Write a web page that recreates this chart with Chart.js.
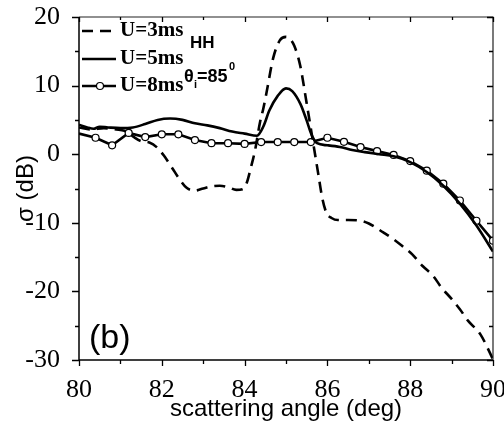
<!DOCTYPE html>
<html><head><meta charset="utf-8">
<script src="https://cdn.jsdelivr.net/npm/chart.js@4.4.0/dist/chart.umd.min.js"></script>
<style>html,body{margin:0;padding:0;background:#fff;}#wrap{width:504px;height:432px;position:relative;}</style>
</head><body><div id="wrap"><canvas id="c" width="504" height="432"></canvas></div>
<script>
const seriesLabels = ['U=3ms', 'U=5ms', 'U=8ms'];

const angle3 = [80.0,80.3,80.6,80.9,81.1,81.3,81.5,81.7,81.9,82.05,82.25,82.4,82.6,82.8,83.0,83.2,83.4,83.6,83.8,83.95,84.05,84.15,84.25,84.37,84.45,84.53,84.69,84.85,85.0,85.1,85.2,85.34,85.5,85.62,85.78,85.88,85.98,86.1,86.25,86.5,86.8,87.0,87.35,87.6,87.85,88.05,88.3,88.55,88.75,89.0,89.2,89.4,89.7,90.0];
const sigma3 = [3.9,3.6,3.8,3.6,3.4,2.6,1.9,1.7,0.9,-0.2,-2.0,-3.4,-4.9,-5.3,-5.0,-4.7,-4.6,-4.8,-5.2,-5.1,-4.2,-2.0,0.5,4.6,6.6,9.0,14.0,16.6,17.1,16.8,15.8,13.0,7.4,3.0,-2.9,-6.5,-8.6,-9.3,-9.6,-9.6,-9.7,-10.1,-11.4,-12.4,-13.6,-14.6,-16.3,-17.7,-19.4,-21.1,-22.6,-24.3,-26.3,-29.9];

const angle5 = [80.0,80.2,80.35,80.5,80.7,81.0,81.3,81.6,81.9,82.2,82.5,82.8,83.1,83.4,83.7,84.0,84.3,84.45,84.6,84.8,85.0,85.15,85.35,85.5,85.62,85.75,86.0,86.3,86.6,86.9,87.25,87.6,88.0,88.4,88.8,89.2,89.6,90.0];
const sigma5 = [4.3,3.9,3.7,4.0,3.9,3.8,3.9,4.4,5.0,5.2,5.0,4.5,4.2,3.8,3.3,3.0,2.7,4.0,6.4,8.5,9.6,9.2,7.3,4.9,2.8,1.6,1.3,1.05,0.6,0.3,0.0,-0.3,-1.15,-2.6,-4.6,-7.2,-10.4,-14.2];

const angle8 = [80.0,80.4,80.8,81.2,81.6,82.0,82.4,82.8,83.2,83.6,84.0,84.4,84.8,85.2,85.6,86.0,86.4,86.8,87.2,87.6,88.0,88.4,88.8,89.2,89.6,90.0];
const sigma8 = [3.0,2.4,1.3,3.1,2.5,2.9,2.9,2.06,1.6,1.6,1.5,1.77,1.77,1.77,1.77,2.4,1.8,1.04,0.45,-0.1,-1.0,-2.4,-4.3,-6.75,-9.7,-12.6];

const xTickValues = [80, 82, 84, 86, 88, 90];
const yTickValues = [-30, -20, -10, 0, 10, 20];
const xTitle = 'scattering angle (deg)';
const yTitle = 'σ (dB)';
const polLabel = 'HH';
const panelLabel = '(b)';

const toXY = (xs, ys) => xs.map((x, i) => ({x: x, y: ys[i]}));

const serif = "Liberation Serif";
const sans = "Liberation Sans";

const frameAndTicks = {
  id: 'frameAndTicks',
  afterDatasetsDraw(chart) {
    const ctx = chart.ctx, a = chart.chartArea;
    const xs = chart.scales.x, ys = chart.scales.y;
    ctx.save();
    ctx.strokeStyle = '#000';
    ctx.lineWidth = 1.5;
    ctx.beginPath();
    ctx.moveTo(a.left, a.top); ctx.lineTo(a.left, a.bottom); ctx.lineTo(a.right, a.bottom);
    ctx.stroke();
    ctx.lineWidth = 1.2;
    ctx.strokeStyle = '#222';
    ctx.beginPath();
    ctx.moveTo(a.left, a.top); ctx.lineTo(a.right, a.top); ctx.lineTo(a.right, a.bottom);
    ctx.stroke();
    ctx.lineWidth = 1.3;
    ctx.strokeStyle = '#000';
    ctx.beginPath();
    for (let v = xs.min; v <= xs.max + 1e-9; v += 1) {
      const px = Math.round(xs.getPixelForValue(v)) + 0.5;
      const major = Math.round(v) % 2 === 0;
      ctx.moveTo(px, a.bottom); ctx.lineTo(px, a.bottom + (major ? 6 : 4));
      ctx.moveTo(px, a.top); ctx.lineTo(px, a.top + (major ? 5 : 3));
    }
    for (let v = ys.min; v <= ys.max + 1e-9; v += 5) {
      const py = Math.round(ys.getPixelForValue(v)) + 0.5;
      const major = Math.round(v) % 10 === 0;
      ctx.moveTo(a.left, py); ctx.lineTo(a.left - (major ? 7 : 4), py);
      ctx.moveTo(a.right, py); ctx.lineTo(a.right - (major ? 6 : 4), py);
    }
    ctx.stroke();
    ctx.restore();
  },
  afterDraw(chart) {
    const ctx = chart.ctx;
    const ds = chart.data.datasets;
    ctx.save();
    const rows = [31, 59, 86];
    ds.forEach((d, i) => {
      const y = rows[i];
      ctx.strokeStyle = d.borderColor;
      ctx.lineWidth = d.borderWidth;
      ctx.setLineDash(d.borderDash || []);
      ctx.beginPath(); ctx.moveTo(82, y); ctx.lineTo(116, y); ctx.stroke();
      ctx.setLineDash([]);
      if (d.showMarker) {
        ctx.beginPath(); ctx.arc(100, y, 3.5, 0, Math.PI * 2);
        ctx.fillStyle = '#fff'; ctx.fill();
        ctx.lineWidth = 1.2; ctx.stroke();
      }
      ctx.fillStyle = '#000';
      ctx.font = 'bold 21px "' + serif + '"';
      ctx.textBaseline = 'middle';
      ctx.textAlign = 'left';
      ctx.fillText(d.label, 120, y);
    });
    ctx.fillStyle = '#000';
    ctx.textBaseline = 'alphabetic';
    ctx.font = 'bold 17px "' + sans + '"';
    ctx.fillText(polLabel, 190, 48);
    ctx.font = 'bold 18px "' + sans + '"';
    ctx.fillText('θ', 184, 82);
    ctx.font = 'bold 11px "' + sans + '"';
    ctx.fillText('i', 194, 88);
    ctx.font = 'bold 18px "' + sans + '"';
    ctx.fillText('=85', 197, 82);
    ctx.font = 'bold 11px "' + sans + '"';
    ctx.fillText('0', 229, 70);
    ctx.font = '34px "' + sans + '"';
    ctx.fillText(panelLabel, 89, 348);
    ctx.restore();
  }
};

new Chart(document.getElementById('c'), {
  type: 'line',
  data: {
    datasets: [
      {label: seriesLabels[0], data: toXY(angle3, sigma3), borderColor: '#000', borderWidth: 2.6, borderDash: [11, 7], pointRadius: 0, cubicInterpolationMode: 'monotone', fill: false},
      {label: seriesLabels[1], data: toXY(angle5, sigma5), borderColor: '#000', borderWidth: 2.6, pointRadius: 0, cubicInterpolationMode: 'monotone', fill: false},
      {label: seriesLabels[2], data: toXY(angle8, sigma8), borderColor: '#000', borderWidth: 2.6, tension: 0, fill: false, showMarker: true,
       pointRadius: (c) => c.dataIndex === 0 ? 0 : 3.5, pointBackgroundColor: '#fff', pointBorderColor: '#000', pointBorderWidth: 1.2}
    ]
  },
  options: {
    responsive: false,
    animation: false,
    events: [],
    layout: {padding: {top: 17, right: 11, left: 0, bottom: 0}},
    plugins: {legend: {display: false}, tooltip: {enabled: false}},
    scales: {
      x: {
        type: 'linear', min: 80, max: 90,
        afterBuildTicks: (s) => { s.ticks = xTickValues.map(v => ({value: v})); },
        afterFit: (s) => { s.height = 72; s.paddingLeft = 0; s.paddingRight = 0; },
        grid: {display: false}, border: {display: false},
        ticks: {color: '#000', font: {family: '"' + serif + '"', size: 26, lineHeight: 1.2}, padding: 7, maxRotation: 0, autoSkip: false},
        title: {display: true, text: xTitle, color: '#000', font: {family: '"' + sans + '"', size: 24, lineHeight: 1.2}, padding: {top: 0, bottom: 8}}
      },
      y: {
        type: 'linear', min: -30, max: 20,
        afterBuildTicks: (s) => { s.ticks = yTickValues.map(v => ({value: v})); },
        afterFit: (s) => { s.width = 79; s.paddingTop = 0; s.paddingBottom = 0; },
        grid: {display: false}, border: {display: false},
        ticks: {color: '#000', font: {family: '"' + serif + '"', size: 26, lineHeight: 1.2}, padding: 11, autoSkip: false},
        title: {display: true, text: yTitle, color: '#000', font: {family: '"' + sans + '"', size: 24, lineHeight: 1.2}, padding: {top: 12, bottom: 0}}
      }
    }
  },
  plugins: [frameAndTicks]
});
</script></body></html>
